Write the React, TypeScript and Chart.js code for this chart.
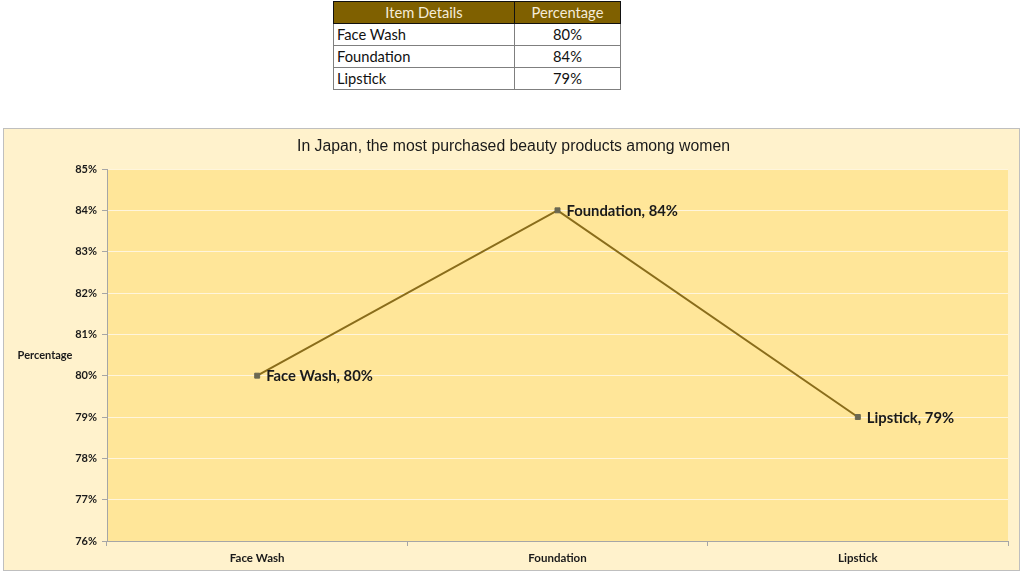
import React, { useEffect, useRef } from "react";
import { Chart, registerables } from "chart.js";

Chart.register(...registerables);

const categories = ["Face Wash", "Foundation", "Lipstick"];
const percentages = [80, 84, 79];
const tableHeaders = ["Item Details", "Percentage"];
const yTickMin = 76;
const yTickMax = 85;
const chartTitle = "In Japan, the most purchased beauty products among women";
const yAxisTitle = "Percentage";

const overlayPlugin = {
  id: "overlay",
  afterDatasetsDraw(chart: any) {
    const { ctx, chartArea } = chart;
    const meta = chart.getDatasetMeta(0);
    ctx.save();
    // data labels
    ctx.font = "bold 14.8px Lato, 'Open Sans', sans-serif";
    ctx.fillStyle = "#1a1a1a";
    ctx.textAlign = "left";
    ctx.textBaseline = "middle";
    meta.data.forEach((pt: any, i: number) => {
      ctx.fillText(`${categories[i]}, ${percentages[i]}%`, pt.x + 9, pt.y + 1);
    });
    // title
    ctx.font = "15.8px 'Liberation Sans', Arial, sans-serif";
    ctx.fillStyle = "#1a1a1a";
    ctx.textAlign = "center";
    ctx.fillText(chartTitle, 509.5, 18);
    // horizontal y title
    ctx.font = "bold 11px Lato, 'Open Sans', sans-serif";
    ctx.fillText(yAxisTitle, 41, (chartArea.top + chartArea.bottom) / 2);
    ctx.restore();
  },
};

const plotBgPlugin = {
  id: "plotBg",
  beforeDraw(chart: any) {
    const { ctx, chartArea } = chart;
    ctx.save();
    ctx.fillStyle = "#FFE699";
    ctx.fillRect(chartArea.left, chartArea.top, chartArea.right - chartArea.left, chartArea.bottom - chartArea.top);
    ctx.restore();
  },
};

function ChartBox() {
  const ref = useRef<HTMLCanvasElement>(null);
  useEffect(() => {
    if (!ref.current) return;
    const chart = new Chart(ref.current, {
      type: "line",
      data: {
        labels: categories,
        datasets: [
          {
            data: percentages,
            borderColor: "#8A6D1B",
            borderWidth: 2,
            pointStyle: "rect",
            pointRadius: 3.5,
            pointBackgroundColor: "#6B6852",
            pointBorderColor: "#6B6852",
            pointBorderWidth: 1,
            tension: 0,
          },
        ],
      },
      options: {
        animation: false,
        responsive: false,
        devicePixelRatio: 1,
        layout: { padding: { top: 40, right: 11, left: 0, bottom: 0 } },
        plugins: { legend: { display: false }, tooltip: { enabled: false }, title: { display: false } },
        scales: {
          x: {
            offset: true,
            grid: {
              offset: true,
              drawOnChartArea: false,
              drawTicks: true,
              tickLength: 5,
              color: "#A6A6A6",
            },
            border: { color: "#A6A6A6", width: 1 },
            ticks: {
              color: "#1a1a1a",
              font: { family: "Lato, 'Open Sans', sans-serif", size: 11.5, weight: "bold" },
              padding: 5,
            },
            afterFit(scale: any) {
              scale.height = 29;
            },
          },
          y: {
            min: yTickMin,
            max: yTickMax,
            ticks: {
              stepSize: 1,
              color: "#1a1a1a",
              font: { family: "Lato, 'Open Sans', sans-serif", size: 11, weight: "bold" },
              padding: 5,
              callback: (v: any) => `${v}%`,
            },
            grid: {
              color: (c: any) => (c.index === 0 ? "rgba(0,0,0,0)" : "#FFF5DC"),
              tickColor: "#A6A6A6",
              tickLength: 5,
              lineWidth: 1,
            },
            border: { color: "#A6A6A6", width: 1 },
            afterFit(scale: any) {
              scale.width = 103;
            },
          },
        },
      },
      plugins: [plotBgPlugin, overlayPlugin],
    } as any);
    return () => chart.destroy();
  }, []);
  return <canvas ref={ref} width={1015} height={441} style={{ display: "block" }} />;
}

export default function App() {
  useEffect(() => {
    document.body.style.margin = "0";
  }, []);
  const cell: React.CSSProperties = {
    border: "1px solid #7f7f7f",
    padding: "0 3px",
    height: 21,
    lineHeight: "21px",
  };
  return (
    <div style={{ position: "relative", width: 1024, height: 576, background: "#fff", fontFamily: "Lato, 'Open Sans', sans-serif" }}>
      <table
        style={{
          position: "absolute",
          left: 333,
          top: 1,
          width: 288,
          borderCollapse: "collapse",
          border: "1.5px solid #111",
          fontSize: 14.7,
          color: "#111",
        }}
      >
        <thead>
          <tr>
            <th style={{ ...cell, width: 174, background: "#7F6000", color: "#F5ECD8", fontWeight: "normal", textAlign: "center", border: "1px solid #111" }}>
              {tableHeaders[0]}
            </th>
            <th style={{ ...cell, background: "#7F6000", color: "#F5ECD8", fontWeight: "normal", textAlign: "center", border: "1px solid #111" }}>
              {tableHeaders[1]}
            </th>
          </tr>
        </thead>
        <tbody>
          {categories.map((c, i) => (
            <tr key={c}>
              <td style={{ ...cell, textAlign: "left" }}>{c}</td>
              <td style={{ ...cell, textAlign: "center" }}>{percentages[i]}%</td>
            </tr>
          ))}
        </tbody>
      </table>
      <div
        style={{
          position: "absolute",
          left: 3,
          top: 128,
          width: 1015,
          height: 441,
          border: "1px solid #BFBFBF",
          background: "#FFF2CC",
        }}
      >
        <ChartBox />
      </div>
    </div>
  );
}
